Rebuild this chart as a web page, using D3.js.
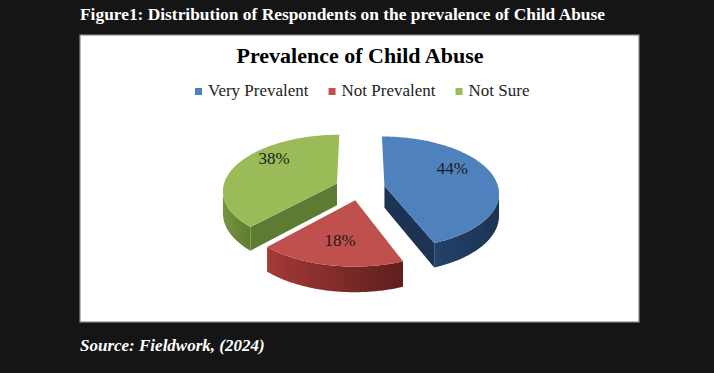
<!DOCTYPE html>
<html lang="en">
<head>
    <meta charset="UTF-8">
    <title>Prevalence of Child Abuse</title>
    <style>
        html, body { margin: 0; padding: 0; background: #151515; }
        svg { display: block; }
    </style>
    <script src="https://d3js.org/d3.v7.min.js" charset="utf-8"></script>
</head>
<body>
    <script>
        const categories = ['Very Prevalent', 'Not Prevalent', 'Not Sure']
        const values = [44, 18, 38]
        const caption = 'Figure1: Distribution of Respondents on the prevalence of Child Abuse'
        const chartTitle = 'Prevalence of Child Abuse'
        const source = 'Source: Fieldwork, (2024)'

        const width = 714
        const height = 373
        const topColor = ['#4f81bd', '#c0504d', '#9bbb59']
        const wallLight = ['#23416b', '#a33a38', '#76953e']
        const wallDark = ['#1c3354', '#5f1e1d', '#5f7b31']
        const box = { left: 80, top: 35, right: 639, bottom: 322 }

        // fake 3d pie
        const center = { x: 360, y: 188 }
        const R = 114
        const tilt = 0.487
        const dist = 980
        const depth = 22
        const explode = 25

        const svg = d3.select('body').append('svg').attr('width', width).attr('height', height)
        const defs = svg.append('defs')
        svg.append('rect').attr('width', width).attr('height', height).attr('fill', '#151515')

        svg.append('text')
            .attr('x', box.left).attr('y', 20)
            .attr('font-family', 'Liberation Serif').attr('font-weight', 'bold').attr('font-size', 17)
            .attr('fill', '#fff')
            .attr('textLength', 525).attr('lengthAdjust', 'spacingAndGlyphs')
            .text(caption)

        svg.append('rect')
            .attr('x', box.left).attr('y', box.top)
            .attr('width', box.right - box.left).attr('height', box.bottom - box.top)
            .attr('fill', '#fff').attr('stroke', '#8a8a8a').attr('stroke-width', 1.2)

        svg.append('text')
            .attr('x', 360).attr('y', 63)
            .attr('text-anchor', 'middle')
            .attr('font-family', 'Liberation Serif').attr('font-weight', 'bold').attr('font-size', 22)
            .attr('fill', '#000')
            .text(chartTitle)

        // legend
        const legend = svg.append('g').attr('class', 'legend').attr('transform', 'translate(195,96)')
        let lx = 0
        categories.forEach((c, i) => {
            const g = legend.append('g').attr('transform', `translate(${lx},0)`)
            g.append('rect').attr('x', 0).attr('y', -8).attr('width', 7).attr('height', 7).attr('fill', topColor[i])
            const t = g.append('text').attr('x', 13).attr('y', 0)
                .attr('font-family', 'Liberation Serif').attr('font-size', 17).attr('fill', '#222')
                .text(c)
            lx += 13 + t.node().getComputedTextLength() + 20
        })

        function scale(z) { return dist / (dist + z) }
        function proj(x, z, dy) {
            const s = scale(z)
            return [center.x + x * s, center.y - z * tilt * s + dy * s]
        }
        function area(pts) {
            let a = 0
            for (let i = 0; i < pts.length; i++) {
                const p = pts[i], q = pts[(i + 1) % pts.length]
                a += p[0] * q[1] - q[0] * p[1]
            }
            return a / 2
        }

        const pie = d3.pie().sort(null)
        const arcs = pie(values)
        const line = d3.line()
        const steps = 90

        const slices = arcs.map((a, i) => {
            const mid = (a.startAngle + a.endAngle) / 2
            return { a, i, ex: explode * Math.sin(mid), ez: explode * Math.cos(mid), mid }
        })
        const pt = (s, ang, r, dy) => proj(s.ex + r * Math.sin(ang), s.ez + r * Math.cos(ang), dy)

        // back slices first
        slices.sort((p, q) => q.ez - p.ez)

        const pieG = svg.append('g')
        slices.forEach(s => {
            const g = pieG.append('g')
            const a0 = s.a.startAngle, a1 = s.a.endAngle
            const angs = d3.range(steps + 1).map(j => a0 + (a1 - a0) * j / steps)

            // radial walls (skip the ones seen edge-on)
            const walls = [
                [pt(s, 0, 0, 0), pt(s, a0, R, 0), pt(s, a0, R, depth), pt(s, 0, 0, depth)],
                [pt(s, a1, R, 0), pt(s, 0, 0, 0), pt(s, 0, 0, depth), pt(s, a1, R, depth)]
            ]
            walls.forEach(w => {
                if (area(w) < -150) {
                    g.append('path').attr('d', line(w) + 'Z').attr('fill', wallDark[s.i])
                }
            })

            // outer wall: visible part only, one polygon with a gradient
            const vis = d3.range(steps).filter(j => area([
                pt(s, angs[j], R, 0), pt(s, angs[j + 1], R, 0), pt(s, angs[j + 1], R, depth), pt(s, angs[j], R, depth)
            ]) < 0)
            if (vis.length) {
                const run = angs.slice(vis[0], vis[vis.length - 1] + 2)
                const poly = run.map(an => pt(s, an, R, 0)).concat(run.slice().reverse().map(an => pt(s, an, R, depth)))
                const xs = d3.extent(poly, d => d[0])
                const id = 'wall' + s.i
                const grad = defs.append('linearGradient').attr('id', id)
                    .attr('gradientUnits', 'userSpaceOnUse')
                    .attr('x1', xs[0]).attr('x2', xs[1]).attr('y1', 0).attr('y2', 0)
                grad.append('stop').attr('offset', 0).attr('stop-color', wallLight[s.i])
                grad.append('stop').attr('offset', 1).attr('stop-color', wallDark[s.i])
                g.append('path').attr('d', line(poly) + 'Z').attr('fill', `url(#${id})`)
            }

            // top face
            const topPts = [pt(s, 0, 0, 0)].concat(angs.map(an => pt(s, an, R, 0)))
            g.append('path').attr('d', line(topPts) + 'Z').attr('fill', topColor[s.i])

            const lp = pt(s, s.mid, R * 0.62, 0)
            g.append('text')
                .attr('x', lp[0]).attr('y', lp[1] - 9 - 11 * Math.cos(s.mid))
                .attr('text-anchor', 'middle').attr('dominant-baseline', 'central')
                .attr('font-family', 'Liberation Serif').attr('font-size', 17).attr('fill', '#1a1a1a')
                .text(values[s.i] + '%')
        })

        svg.append('text')
            .attr('x', box.left).attr('y', 351)
            .attr('font-family', 'Liberation Serif').attr('font-weight', 'bold').attr('font-style', 'italic')
            .attr('font-size', 17).attr('fill', '#fff')
            .text(source)
    </script>
</body>
</html>
